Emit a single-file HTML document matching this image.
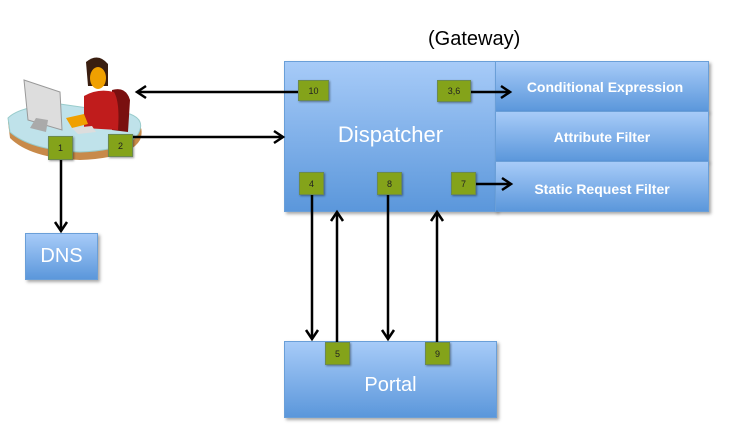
<!DOCTYPE html>
<html><head><style>
body{margin:0;background:#fff;width:735px;height:445px;overflow:hidden;position:relative;font-family:"Liberation Sans",sans-serif}
.b{position:absolute;background:linear-gradient(#a7cbf8,#5b97db);border:1px solid #6a9fd8;box-shadow:2px 2px 3px rgba(0,0,0,.35);color:#fff;display:flex;align-items:center;justify-content:center;box-sizing:border-box}
.f{font-size:14px;font-weight:bold}
.g{position:absolute;background:#84a31a;border:1px solid #6b8a4e;box-shadow:1px 1px 2px rgba(0,0,0,.4);font-size:9px;color:#222;display:flex;align-items:center;justify-content:center;box-sizing:border-box}
</style></head><body>
<div style="position:absolute;left:428px;top:28px;font-size:20px;color:#000">(Gateway)</div>
<div class="b" style="left:284px;top:61px;width:213px;height:151px;font-size:22px;padding-bottom:4px">Dispatcher</div>
<div class="b f" style="left:495px;top:61px;width:214px;height:51px;padding-left:6px">Conditional Expression</div>
<div class="b f" style="left:495px;top:111px;width:214px;height:51px">Attribute Filter</div>
<div class="b f" style="left:495px;top:161px;width:214px;height:51px;padding-top:4px">Static Request Filter</div>
<div class="b" style="left:284px;top:341px;width:213px;height:77px;font-size:20px;padding-top:12px">Portal</div>
<div class="b" style="left:25px;top:233px;width:73px;height:47px;font-size:20px">DNS</div>
<svg width="735" height="445" style="position:absolute;left:0;top:0">
<path d="M8 122 Q20 110 60 108 L130 118 Q146 124 140 140 Q130 158 80 160 Q30 158 10 138 Z" fill="#c88a4a"/>
<path d="M8 118 Q20 106 60 104 L130 114 Q146 120 138 134 Q128 150 80 152 Q30 150 10 132 Z" fill="#bfe2ea" stroke="#9cc" stroke-width="1"/>
<path d="M24 80 L60 92 L62 130 L28 120 Z" fill="#ddd" stroke="#999"/>
<path d="M36 118 L48 120 L46 132 L30 128 Z" fill="#aaa"/>
<path d="M112 90 Q126 86 130 100 L128 132 L112 130 Z" fill="#7a1010"/>
<path d="M84 96 Q98 88 114 92 Q120 102 118 130 L84 128 Z" fill="#c01c1c"/>
<path d="M86 62 Q98 52 108 64 L108 86 L88 86 Z" fill="#3a1e10"/>
<ellipse cx="98" cy="78" rx="8" ry="11" fill="#f0a000"/>
<path d="M66 118 L84 114 L88 124 L72 128 Z" fill="#f0a000"/>
<path d="M72 128 L92 126 L96 132 L78 134 Z" fill="#ddd"/>
<g stroke="#000" stroke-width="2.5" fill="none">
<line x1="298" y1="92" x2="138" y2="92"/><polyline points="146,86 137,92 146,98"/>
<line x1="133" y1="137" x2="282" y2="137"/><polyline points="274,131 283,137 274,143"/>
<line x1="471" y1="92" x2="509" y2="92"/><polyline points="501,86 510,92 501,98"/>
<line x1="476" y1="184" x2="510" y2="184"/><polyline points="502,178 511,184 502,190"/>
<line x1="61" y1="160" x2="61" y2="230"/><polyline points="55,222 61,231 67,222"/>
<line x1="312" y1="194" x2="312" y2="338"/><polyline points="306,330 312,339 318,330"/>
<line x1="337" y1="342" x2="337" y2="213"/><polyline points="331,221 337,212 343,221"/>
<line x1="388" y1="194" x2="388" y2="338"/><polyline points="382,330 388,339 394,330"/>
<line x1="437" y1="342" x2="437" y2="213"/><polyline points="431,221 437,212 443,221"/>
</g>
</svg>
<div class="g" style="left:48px;top:136px;width:25px;height:24px">1</div>
<div class="g" style="left:108px;top:134px;width:25px;height:23px">2</div>
<div class="g" style="left:298px;top:80px;width:31px;height:21px">10</div>
<div class="g" style="left:437px;top:80px;width:34px;height:22px">3,6</div>
<div class="g" style="left:299px;top:172px;width:25px;height:23px">4</div>
<div class="g" style="left:377px;top:172px;width:25px;height:23px">8</div>
<div class="g" style="left:451px;top:172px;width:25px;height:23px">7</div>
<div class="g" style="left:325px;top:342px;width:25px;height:23px">5</div>
<div class="g" style="left:425px;top:342px;width:25px;height:23px">9</div>
</body></html>
